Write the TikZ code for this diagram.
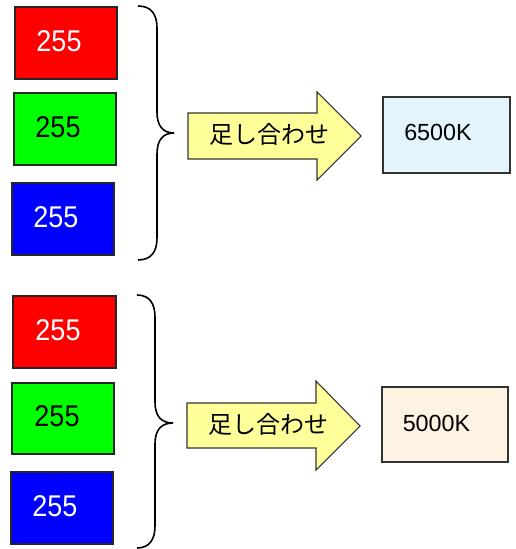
\documentclass[tikz,border=0pt]{standalone}
\usepackage{fontspec}
\setmainfont{Liberation Sans}
\newfontfamily\jpfont{Noto Sans CJK JP}
\newfontfamily\narrowfont[FakeStretch=0.9]{Liberation Sans}
\usetikzlibrary{fit}
\definecolor{arrowyellow}{HTML}{FFFF99}
\definecolor{lightblue}{HTML}{E3F4FD}
\definecolor{beige}{HTML}{FDF3E3}
\tikzset{
  colbox/.style={draw=black!85, line width=1.5pt, inner sep=0pt},
  numtext/.style={inner sep=0pt, font=\narrowfont\fontsize{22.5}{27}\selectfont},
  brace/.style={draw=black, line width=1.2pt},
  sumarrow/.style={draw=black!80, line width=0.8pt, fill=arrowyellow, line join=miter},
  arrowtext/.style={inner sep=0pt, font=\jpfont\fontsize{18}{22}\selectfont},
  resbox/.style={draw=black!80, line width=1pt, inner sep=0pt},
  restext/.style={inner sep=0pt, font=\fontsize{17.5}{21}\selectfont},
}
\begin{document}
\begin{tikzpicture}[x=0.75pt,y=-0.75pt]
\useasboundingbox (0,0) rectangle (515,549);
% ---------- top group ----------
\node[colbox, fill=red,  fit={(15,7)(117,79)}] (r1) {};
\node[colbox, fill=green,fit={(14,93)(116,165)}] (g1) {};
\node[colbox, fill=blue, fit={(12,183)(114,255)}] (b1) {};
\node[numtext, text=white] (r1t) at (59,41.5) {255};
\node[numtext, text=black] (g1t) at (58,127.5) {255};
\node[numtext, text=white] (b1t) at (56,217.5) {255};
\draw[brace] (138,6) .. controls (151,6) and (157,14) .. (157,28)
  -- (157,112) .. controls (157,126) and (163,133) .. (174,133)
  .. controls (163,133) and (157,140) .. (157,154)
  -- (157,238) .. controls (157,252) and (151,260) .. (138,260);
\coordinate (a1s) at (188,113);
\draw[sumarrow] (188,113) -- (317,113) -- (317,92) -- (361,136) -- (317,180) -- (317,159) -- (188,159) -- cycle;
\node[arrowtext] (a1t) at (269,134.5) {足し合わせ};
\node[resbox, fill=lightblue, fit={(383,97)(510,173)}] (k1) {};
\node[restext] (k1t) at (438,132) {6500K};
% ---------- bottom group ----------
\node[colbox, fill=red,  fit={(13,296)(116,368)}] (r2) {};
\node[colbox, fill=green,fit={(12,383)(114,454)}] (g2) {};
\node[colbox, fill=blue, fit={(11,472)(113,544)}] (b2) {};
\node[numtext, text=white] (r2t) at (58,330) {255};
\node[numtext, text=black] (g2t) at (57,416) {255};
\node[numtext, text=white] (b2t) at (55,506) {255};
\draw[brace] (137,295) .. controls (149,295) and (155,303) .. (155,317)
  -- (155,402) .. controls (155,416) and (161,423) .. (173,423)
  .. controls (161,423) and (155,430) .. (155,444)
  -- (155,526) .. controls (155,540) and (149,548) .. (137,548);
\draw[sumarrow] (187,403) -- (316,403) -- (316,381) -- (360,426) -- (316,470) -- (316,448) -- (187,448) -- cycle;
\node[arrowtext] (a2t) at (268,424) {足し合わせ};
\node[resbox, fill=beige, fit={(382,387)(508,462)}] (k2) {};
\node[restext] (k2t) at (436.5,423) {5000K};
\end{tikzpicture}
\end{document}
